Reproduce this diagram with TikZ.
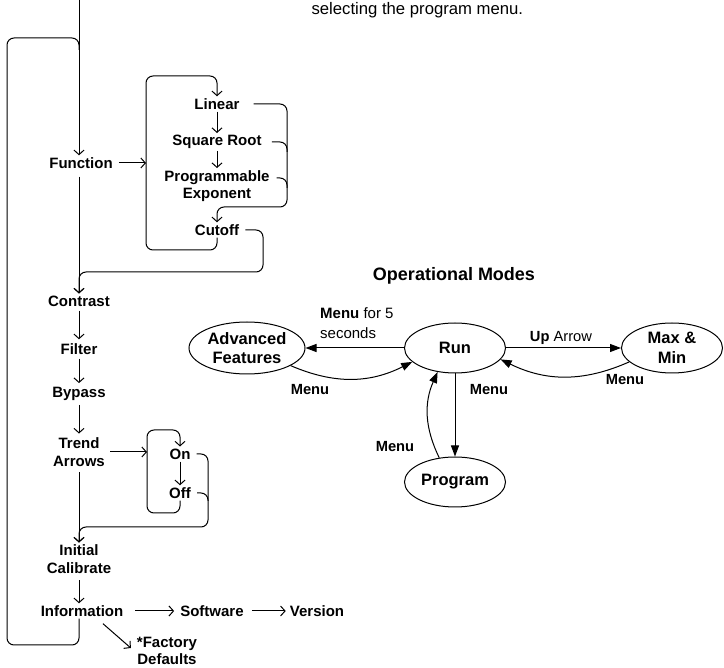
\documentclass[tikz,border=0pt]{standalone}
\usepackage{fontspec}
\setmainfont{Liberation Sans}
\usetikzlibrary{arrows.meta,shapes.geometric,calc}

\tikzset{
  item/.style={font=\fontsize{15}{17.5}\selectfont\bfseries, align=center, inner sep=2pt},
  mode/.style={ellipse, draw, line width=1pt, font=\fontsize{16.5}{19.5}\selectfont\bfseries,
    align=center, inner sep=0pt, minimum width=101pt, minimum height=50pt},
  lbl/.style={font=\fontsize{14.7}{19}\selectfont\bfseries, inner sep=1pt},
  go/.style={-{Straight Barb[length=4.5pt,width=10pt]}, line width=1pt},
  trans/.style={-{Triangle[length=11pt,width=8pt]}, line width=1pt},
  wire/.style={line width=1pt, rounded corners=7pt},
}

\begin{document}
\begin{tikzpicture}[x=1pt,y=-1pt]
\useasboundingbox (0,0) rectangle (724,668);

\node[font=\fontsize{16.7}{20}\selectfont, anchor=base west] (note) at (308,15) {selecting the program menu.};

% menu column
\node[item] (func) at (81,163) {Function};
\node[item] (contr) at (79,301) {Contrast};
\node[item] (filt) at (79,349) {Filter};
\node[item] (byp) at (79,394) {Bypass};
\node[item] (trend) at (79,452) {Trend\\Arrows};
\node[item] (init) at (79,559) {Initial\\Calibrate};
\node[item] (info) at (82,611) {Information};
\node[item] (soft) at (212,611) {Software};
\node[item] (vers) at (317,611) {Version};
\node[item, font=\fontsize{15}{16.5}\selectfont\bfseries] (fact) at (167,651) {*Factory\\Defaults};

% function choices
\node[item] (lin) at (217,104) {Linear};
\node[item] (sqr) at (217,142) {Square Root};
\node[item] (pexp) at (217,186) {Programmable\\Exponent};
\node[item] (cut) at (217,230) {Cutoff};

% trend arrow choices
\node[item] (on) at (180,454) {On};
\node[item] (off) at (180,493) {Off};

\coordinate (top) at (79,0);
\coordinate (loopT) at (7,38);
\coordinate (loopB) at (7,645);
\coordinate (fL) at (146,76);
\coordinate (fB) at (146,250);
\coordinate (fR) at (287,207);
\coordinate (cR) at (263,272);
\coordinate (tL) at (147,430);
\coordinate (tB) at (147,513);
\coordinate (tR) at (208,527);
\coordinate (pexpR) at ([xshift=5pt,yshift=8pt]pexp.east);

\draw[go] (top) -- (func.north -| top);
\draw[wire] (info.south -| top) |- (loopB) -- (loopT) -- (loopT -| top) -- ++(0,12);
\draw[go, shorten <=4pt] (func.east) -- (func.east -| fL);
\draw[go, wire] (cut.south) -- (cut.south |- fB) -- (fB) -- (fL) -- (fL -| lin) -- (lin.north);
\draw[go] (lin) -- (sqr);
\draw[go] (sqr) -- (pexp);
\draw[go, wire] ([xshift=12pt]lin.east) -| (fR) -| (cut.north);
\draw[wire] ([xshift=8pt]sqr.east) -- (sqr.east -| fR) -- ++(0,10);
\draw[wire] (pexpR) -- (pexpR -| fR) -- ++(0,10);
\draw[go, wire] ([xshift=4pt]cut.east) -| (cR) -| (contr.north);
\draw[go, shorten <=6pt] (func.south -| top) -- (contr.north);
\draw[go, shorten <=2pt, shorten >=2pt] (contr) -- (filt);
\draw[go, shorten <=2pt, shorten >=2pt] (filt) -- (byp);
\draw[go, shorten <=2pt, shorten >=2pt] (byp) -- (trend);
\draw[go, shorten <=3pt] (trend.east) -- (trend.east -| tL);
\draw[go, wire] (off.south) -- (off.south |- tB) -- (tB) -- (tL) -- (tL -| on) -- (on.north);
\draw[go] (on) -- (off);
\draw[go, wire] ([xshift=4pt]on.east) -| (tR) -| (init.north);
\draw[wire] ([xshift=4pt]off.east) -- (off.east -| tR) -- ++(0,8);
\draw[go, shorten <=4pt] (trend.south) -- (init.north);
\draw[go, shorten <=5pt] (init) -- (info.north -| init);
\draw[go, shorten <=10pt, shorten >=4pt] (info) -- (soft);
\draw[go, shorten <=6pt, shorten >=2pt] (soft) -- (vers);
\draw[go] ([xshift=21pt,yshift=-5pt]info.south) -- ([xshift=-4pt,yshift=3pt]fact.west);

% operational modes
\node[font=\fontsize{18}{20}\selectfont\bfseries] (opm) at (454,276) {Operational Modes};
\node[mode] (run) at (455,348) {Run};
\node[mode, minimum width=116pt, minimum height=52pt] (adv) at (247,348) {Advanced\\Features};
\node[mode] (max) at (672,348) {Max \&\\Min};
\node[mode] (prog) at (455,482) {Program};

\draw[trans] (run) -- (adv);
\draw[trans] (run) -- (max);
\draw[trans] (run) -- (prog);
\draw[trans] (adv.-22) to[bend right=25] (run.198);
\draw[trans] (max.198) to[bend left=25] (run.-14);
\draw[trans] (prog.123) to[bend left=25] (run.234);

\node[lbl, align=left, anchor=west, font=\fontsize{15}{20}\selectfont\bfseries] (lhold) at (319,323) {Menu {\mdseries for 5}\\{\mdseries seconds}};
\node[lbl] (lup) at (561,338) {Up {\mdseries Arrow}};
\node[lbl] (ladv) at (310,390) {Menu};
\node[lbl] (lmax) at (625,380) {Menu};
\node[lbl] (lprog) at (489,390) {Menu};
\node[lbl] (lback) at (395,447) {Menu};
\end{tikzpicture}
\end{document}
